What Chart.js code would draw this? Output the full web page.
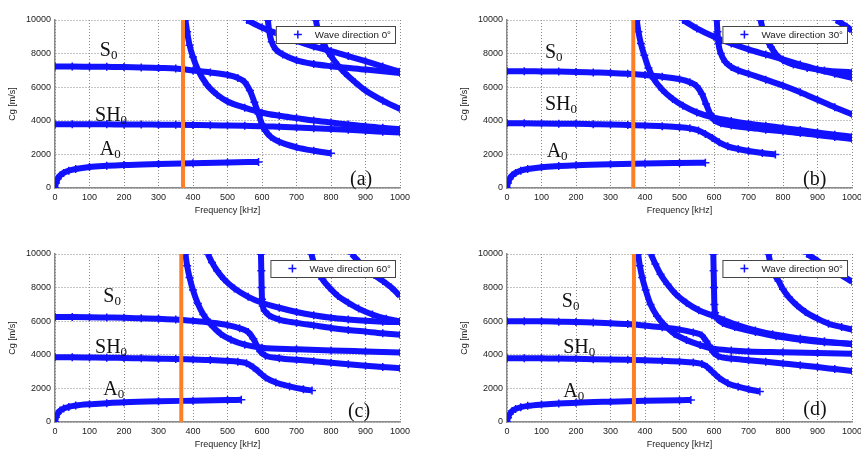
<!DOCTYPE html>
<html>
<head>
<meta charset="utf-8">
<script src="https://cdn.jsdelivr.net/npm/chart.js@4.4.0/dist/chart.umd.min.js"></script>
<style>
  html, body { margin: 0; padding: 0; width: 861px; height: 449px; overflow: hidden; background: #fff; }
  canvas { position: absolute; }
</style>
</head>
<body>
<canvas id="chartA" width="430" height="225" style="left:0;top:0"></canvas>
<canvas id="chartB" width="430" height="225" style="left:452px;top:0"></canvas>
<canvas id="chartC" width="430" height="225" style="left:0;top:234px"></canvas>
<canvas id="chartD" width="430" height="225" style="left:452px;top:234px"></canvas>
<script>
// axis ticks
const freqTicks = [0, 100, 200, 300, 400, 500, 600, 700, 800, 900, 1000];
const cgTicks = [0, 2000, 4000, 6000, 8000, 10000];

// excitation frequency (orange line) for each wave direction
const directions = [0, 30, 60, 90];
const markerFreq = [371, 366, 366, 368];

// ---- wave direction 0° : [frequency kHz, Cg m/s]
const dir0_A0 = [[0,0],[3,300],[8,550],[15,750],[25,900],[40,1030],[60,1130],[100,1250],[150,1320],[200,1370],[300,1430],[400,1480],[500,1520],[590,1550]];
const dir0_SH0 = [[0,3800],[50,3800],[100,3790],[150,3790],[200,3780],[250,3780],[300,3770],[350,3760],[400,3750],[450,3740],[500,3720],[550,3700],[600,3680],[650,3640],[700,3600],[750,3560],[800,3510],[850,3460],[900,3400],[950,3350],[1000,3300]];
const dir0_S0 = [[0,7230],[50,7230],[100,7220],[150,7210],[200,7200],[250,7180],[300,7150],[350,7120],[400,7000],[450,6880],[500,6730],[530,6550],[550,6300],[565,5800],[578,5100],[590,4400],[600,3800],[610,3400],[625,3050],[650,2750],[700,2420],[750,2220],[800,2070]];
const dir0_A1 = [[378,10000],[383,9300],[390,8500],[400,7800],[415,7000],[440,6150],[470,5550],[500,5150],[550,4780],[600,4480],[650,4300],[700,4160],[750,4020],[800,3900],[850,3780],[900,3680],[950,3580],[1000,3500]];
const dir0_M1 = [[556,10000],[600,9550],[650,9150],[700,8750],[750,8420],[800,8150],[850,7850],[900,7550],[950,7230],[1000,6920]];
const dir0_M2 = [[617,10000],[621,9300],[628,8700],[640,8250],[660,7950],[700,7600],[750,7380],[800,7250],[900,7050],[1000,6850]];
const dir0_M3 = [[756,10000],[762,9400],[770,8950],[780,8500],[800,7850],[820,7300],[840,6850],[870,6300],[900,5800],[950,5200],[1000,4700]];

// ---- wave direction 30°
const dir30_A0 = [[0,0],[3,300],[8,550],[15,750],[25,900],[40,1030],[60,1130],[100,1240],[150,1310],[200,1360],[300,1420],[400,1460],[500,1490],[575,1510]];
const dir30_SH0 = [[0,3850],[50,3850],[100,3840],[150,3830],[200,3820],[250,3800],[300,3780],[350,3750],[400,3720],[450,3680],[500,3620],[530,3550],[555,3420],[575,3220],[595,2980],[615,2720],[640,2480],[670,2320],[700,2200],[740,2080],[778,2000]];
const dir30_S0 = [[0,6950],[50,6950],[100,6940],[150,6930],[200,6910],[250,6880],[300,6850],[350,6800],[400,6720],[450,6620],[500,6480],[530,6300],[550,6050],[565,5600],[577,5000],[588,4450],[600,4050],[620,3850],[650,3720],[700,3580],[750,3470],[800,3370],[850,3270],[900,3150],[950,3030],[1000,2920]];
const dir30_A1 = [[376,10000],[381,9300],[388,8600],[398,7900],[410,7150],[425,6500],[450,5850],[480,5300],[510,4900],[550,4500],[600,4180],[650,3990],[700,3830],[750,3700],[800,3580],[850,3450],[900,3300],[950,3170],[1000,3050]];
const dir30_M1 = [[510,10000],[550,9500],[600,9000],[650,8600],[700,8250],[750,7950],[800,7650],[850,7350],[900,7050],[950,6800],[1000,6550]];
const dir30_M2 = [[608,10000],[610,9300],[613,8600],[620,8000],[633,7500],[650,7200],[670,7000],[700,6800],[750,6450],[800,6100],[850,5700],[900,5250],[950,4800],[1000,4380]];
const dir30_M3 = [[735,10000],[742,9400],[752,8900],[765,8400],[780,7950],[800,7600],[830,7350],[870,7150],[920,7000],[1000,6880]];
const dir30_M4 = [[955,10000],[970,9800],[985,9600],[1000,9350]];

// ---- wave direction 60°
const dir60_A0 = [[0,0],[3,280],[8,500],[15,680],[25,800],[40,900],[60,980],[100,1060],[150,1120],[200,1170],[300,1230],[400,1270],[500,1310],[540,1320]];
const dir60_SH0 = [[0,3850],[50,3850],[100,3840],[150,3830],[200,3810],[250,3790],[300,3770],[350,3750],[400,3720],[450,3690],[500,3640],[530,3590],[555,3500],[575,3250],[590,3000],[610,2650],[640,2350],[680,2120],[720,1950],[745,1870]];
const dir60_S0 = [[0,6250],[50,6250],[100,6240],[150,6220],[200,6200],[250,6170],[300,6140],[350,6100],[400,6020],[450,5920],[500,5770],[535,5580],[560,5350],[575,4950],[585,4550],[595,4200],[610,3950],[650,3800],[700,3700],[750,3620],[800,3530],[850,3440],[900,3350],[950,3270],[1000,3200]];
const dir60_A1 = [[378,10000],[383,9300],[390,8600],[400,7850],[414,7050],[430,6400],[450,5850],[480,5250],[510,4900],[550,4600],[600,4420],[700,4330],[800,4260],[900,4200],[1000,4140]];
const dir60_M1 = [[443,10000],[455,9500],[470,9000],[490,8500],[520,7950],[560,7450],[600,7100],[650,6800],[700,6550],[750,6350],[800,6200],[850,6100],[900,6020],[950,5970],[1000,5950]];
const dir60_M2 = [[597,10000],[598,9000],[599,8000],[600,7300],[602,6900],[608,6600],[620,6350],[650,6100],[700,5900],[750,5750],[800,5600],[850,5480],[900,5380],[950,5280],[1000,5200]];
const dir60_M3 = [[743,10000],[750,9500],[760,9000],[775,8500],[795,8000],[820,7500],[850,7100],[880,6750],[920,6400],[960,6150],[1000,6000]];
const dir60_M4 = [[860,10000],[880,9550],[900,9150],[925,8750],[950,8400],[975,8000],[1000,7500]];

// ---- wave direction 90°
const dir90_A0 = [[0,0],[3,260],[8,480],[15,650],[25,780],[40,880],[60,960],[100,1040],[150,1100],[200,1150],[300,1210],[400,1260],[500,1300],[533,1310]];
const dir90_SH0 = [[0,3800],[50,3800],[100,3790],[150,3780],[200,3760],[250,3740],[300,3720],[350,3700],[400,3680],[450,3650],[500,3600],[540,3540],[565,3450],[580,3280],[595,3000],[615,2620],[640,2300],[670,2100],[700,1950],[733,1820]];
const dir90_S0 = [[0,6000],[50,6000],[100,5990],[150,5970],[200,5950],[250,5920],[300,5880],[350,5830],[400,5740],[450,5640],[500,5500],[540,5330],[565,5150],[578,4800],[588,4450],[598,4150],[612,3920],[650,3780],[700,3680],[750,3580],[800,3480],[850,3380],[900,3270],[950,3150],[1000,3030]];
const dir90_A1 = [[380,10000],[385,9300],[392,8600],[402,7850],[416,7000],[435,6300],[455,5800],[485,5250],[520,4880],[560,4580],[595,4380],[650,4260],[700,4200],[800,4150],[900,4100],[1000,4060]];
const dir90_M1 = [[417,10000],[430,9400],[445,8800],[465,8200],[490,7600],[520,7100],[556,6650],[594,6350],[630,6050],[670,5750],[720,5450],[770,5220],[850,4970],[920,4800],[1000,4630]];
const dir90_M2 = [[598,10000],[599,9000],[600,8000],[601,7000],[603,6500],[610,6150],[625,5900],[660,5650],[720,5350],[780,5100],[850,4900],[920,4750],[1000,4650]];
const dir90_M3 = [[758,10000],[765,9300],[775,8800],[787,8400],[800,7900],[816,7450],[840,6950],[865,6550],[900,6150],[932,5850],[970,5650],[1000,5500]];
const dir90_M4 = [[870,10000],[900,9600],[930,9200],[960,8850],[1000,8350]];

const BLUE = "rgb(18,18,255)";
const ORANGE = "#ff7f27";

// one dispersion curve as a scatter series of "+" markers
function curveSet(points) {
  return {
    data: points.map((p) => ({ x: p[0], y: p[1] })),
    showLine: true,
    borderColor: BLUE,
    borderWidth: 6,
    cubicInterpolationMode: "monotone",
    pointStyle: "cross",
    pointRadius: 4,
    pointBorderWidth: 1.5,
    pointBorderColor: BLUE,
    pointBackgroundColor: BLUE,
  };
}

// mode names, panel letter and the legend box
const decorPlugin = {
  id: "decor",
  afterDatasetsDraw(chart, args, opts) {
    const { ctx, chartArea, scales } = chart;
    ctx.save();
    ctx.fillStyle = "#111";
    ctx.textBaseline = "alphabetic";
    ctx.textAlign = "left";
    opts.modes.forEach((m) => {
      const px = scales.x.getPixelForValue(m.f);
      const py = scales.y.getPixelForValue(m.cg);
      ctx.font = '20px "Liberation Serif"';
      ctx.fillText(m.name, px, py);
      const w = ctx.measureText(m.name).width;
      ctx.font = '13px "Liberation Serif"';
      ctx.fillText("0", px + w, py + 3);
    });
    ctx.font = '20px "Liberation Serif"';
    ctx.fillText(opts.letter.text, scales.x.getPixelForValue(opts.letter.f), scales.y.getPixelForValue(opts.letter.cg));

    // legend
    ctx.font = '9.75px "Liberation Sans"';
    const tw = ctx.measureText(opts.legend).width;
    const right = chartArea.right - 5;
    const top = chartArea.top + 6;
    const left = right - tw - 43;
    ctx.fillStyle = "#fff";
    ctx.fillRect(left, top, right - left, 17);
    ctx.strokeStyle = "#444";
    ctx.lineWidth = 1;
    ctx.strokeRect(left + 0.5, top + 0.5, right - left, 17);
    ctx.strokeStyle = BLUE;
    ctx.lineWidth = 1.5;
    ctx.beginPath();
    ctx.moveTo(left + 18, top + 8.5);
    ctx.lineTo(left + 26, top + 8.5);
    ctx.moveTo(left + 22, top + 4.5);
    ctx.lineTo(left + 22, top + 12.5);
    ctx.stroke();
    ctx.fillStyle = "#222";
    ctx.textBaseline = "middle";
    ctx.fillText(opts.legend, left + 39, top + 9);
    ctx.restore();
  },
};

function renderPanel(id, idx, curves, modes, letter) {
  const datasets = [
    {
      data: [{ x: markerFreq[idx], y: 0 }, { x: markerFreq[idx], y: 10000 }],
      showLine: true,
      borderColor: ORANGE,
      borderWidth: 4,
      pointRadius: 0,
      order: -1,
    },
  ].concat(curves.map(curveSet));

  new Chart(document.getElementById(id), {
    type: "scatter",
    data: { datasets },
    options: {
      responsive: false,
      animation: false,
      layout: { padding: { left: 0, right: 30, top: 20, bottom: 0 } },
      plugins: {
        legend: { display: false },
        tooltip: { enabled: false },
        decor: { modes, letter, legend: `Wave direction ${directions[idx]}°` },
      },
      scales: {
        x: {
          type: "linear",
          min: 0,
          max: 1000,
          afterFit: (s) => { s.height = 37; },
          afterBuildTicks: (s) => { s.ticks = freqTicks.map((v) => ({ value: v })); },
          ticks: { padding: 4, color: "#222", font: { family: "Liberation Sans", size: 9 }, callback: (v) => String(v), maxRotation: 0 },
          grid: { color: "#8a8a8a", lineWidth: 1, drawTicks: false },
          border: { color: "#8a8a8a", width: 1.5, dash: [1, 2] },
          title: { display: true, text: "Frequency [kHz]", color: "#222", font: { family: "Liberation Sans", size: 9 }, padding: { top: 0, bottom: 9.5 } },
        },
        y: {
          type: "linear",
          min: 0,
          max: 10000,
          afterFit: (s) => { s.width = 55; },
          afterBuildTicks: (s) => { s.ticks = cgTicks.map((v) => ({ value: v })); },
          ticks: { padding: 4, color: "#222", font: { family: "Liberation Sans", size: 9 }, callback: (v) => String(v) },
          grid: { color: "#8a8a8a", lineWidth: 1, drawTicks: false },
          border: { color: "#8a8a8a", width: 1.5, dash: [1, 2] },
          title: { display: true, text: "Cg [m/s]", color: "#222", font: { family: "Liberation Sans", size: 9 }, padding: { top: 7.6, bottom: 0 } },
        },
      },
    },
    plugins: [decorPlugin],
  });
}

renderPanel("chartA", 0,
  [dir0_A0, dir0_SH0, dir0_S0, dir0_A1, dir0_M1, dir0_M2, dir0_M3],
  [{ name: "S", f: 130, cg: 7860 }, { name: "SH", f: 116, cg: 3990 }, { name: "A", f: 130, cg: 1960 }],
  { text: "(a)", f: 855, cg: 180 });
renderPanel("chartB", 1,
  [dir30_A0, dir30_SH0, dir30_S0, dir30_A1, dir30_M1, dir30_M2, dir30_M3, dir30_M4],
  [{ name: "S", f: 110, cg: 7720 }, { name: "SH", f: 110, cg: 4640 }, { name: "A", f: 115, cg: 1860 }],
  { text: "(b)", f: 858, cg: 180 });
renderPanel("chartC", 2,
  [dir60_A0, dir60_SH0, dir60_S0, dir60_A1, dir60_M1, dir60_M2, dir60_M3, dir60_M4],
  [{ name: "S", f: 140, cg: 7160 }, { name: "SH", f: 116, cg: 4125 }, { name: "A", f: 140, cg: 1610 }],
  { text: "(c)", f: 849, cg: 315 });
renderPanel("chartD", 3,
  [dir90_A0, dir90_SH0, dir90_S0, dir90_A1, dir90_M1, dir90_M2, dir90_M3, dir90_M4],
  [{ name: "S", f: 159, cg: 6860 }, { name: "SH", f: 163, cg: 4090 }, { name: "A", f: 163, cg: 1505 }],
  { text: "(d)", f: 859, cg: 417 });
</script>
</body>
</html>
